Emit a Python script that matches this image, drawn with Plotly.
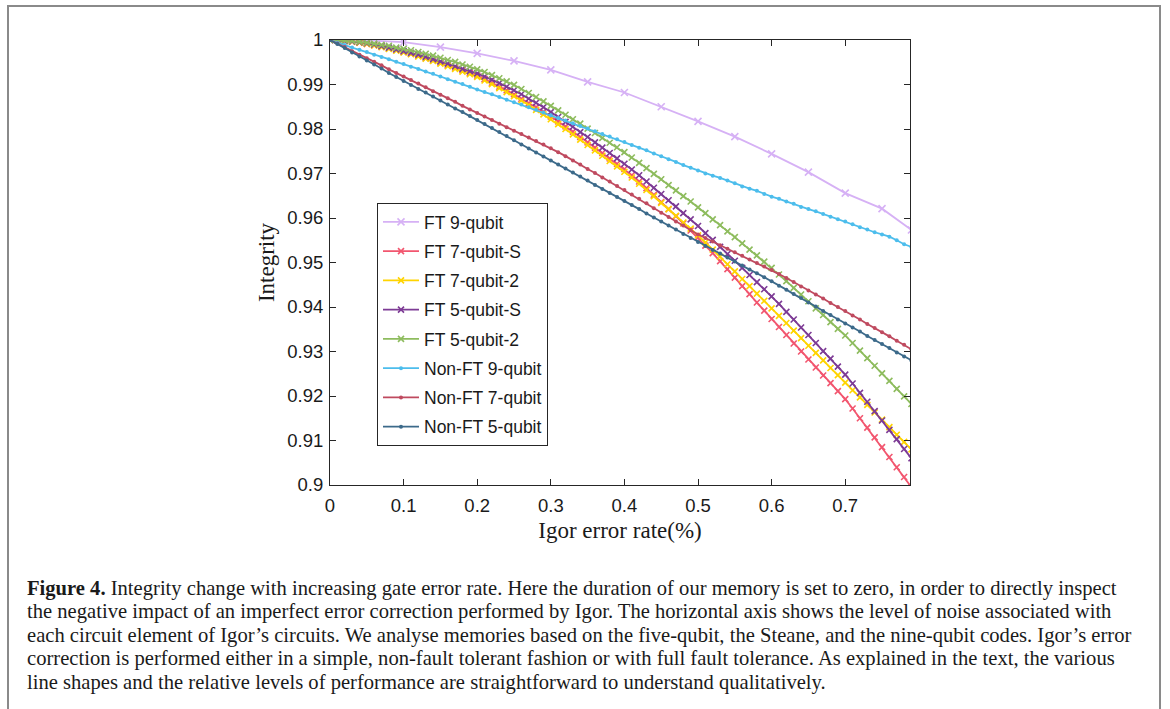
import plotly.graph_objects as go

# ---------------- data ----------------
x_dense = [round(i * 0.01, 2) for i in range(80)]          # 0 .. 0.79
x_ft9 = [0, 0.05, 0.1, 0.15, 0.2, 0.25, 0.3, 0.35, 0.4, 0.45, 0.5, 0.55, 0.6, 0.65, 0.7, 0.75, 0.79]

ft9 = [1.0, 0.9999, 0.9995, 0.9984, 0.9970, 0.9953, 0.9933, 0.9906, 0.9882, 0.9850,
       0.9817, 0.9783, 0.9744, 0.9703, 0.9656, 0.9621, 0.9573]

ft7s = [1.0000, 0.9999, 0.9998, 0.9996, 0.9994, 0.9991, 0.9988, 0.9985, 0.9981, 0.9977,
        0.9973, 0.9969, 0.9964, 0.9959, 0.9954, 0.9949, 0.9943, 0.9938, 0.9932, 0.9926,
        0.9920, 0.9912, 0.9904, 0.9895, 0.9887, 0.9878, 0.9868, 0.9858, 0.9849, 0.9839,
        0.9828, 0.9817, 0.9806, 0.9794, 0.9782, 0.9770, 0.9758, 0.9746, 0.9734, 0.9722,
        0.9710, 0.9696, 0.9682, 0.9667, 0.9652, 0.9636, 0.9620, 0.9604, 0.9588, 0.9572,
        0.9556, 0.9538, 0.9521, 0.9503, 0.9485, 0.9466, 0.9447, 0.9429, 0.9410, 0.9392,
        0.9373, 0.9355, 0.9337, 0.9318, 0.9300, 0.9282, 0.9264, 0.9246, 0.9229, 0.9211,
        0.9193, 0.9172, 0.9150, 0.9129, 0.9107, 0.9085, 0.9063, 0.9040, 0.9018, 0.8995]

ft72 = [1.0000, 0.9999, 0.9998, 0.9996, 0.9994, 0.9991, 0.9988, 0.9984, 0.9980, 0.9976,
        0.9972, 0.9968, 0.9963, 0.9958, 0.9953, 0.9947, 0.9941, 0.9935, 0.9929, 0.9923,
        0.9917, 0.9909, 0.9901, 0.9892, 0.9883, 0.9874, 0.9864, 0.9854, 0.9843, 0.9833,
        0.9822, 0.9811, 0.9800, 0.9788, 0.9776, 0.9764, 0.9752, 0.9740, 0.9728, 0.9716,
        0.9704, 0.9691, 0.9677, 0.9663, 0.9649, 0.9634, 0.9620, 0.9605, 0.9590, 0.9576,
        0.9561, 0.9545, 0.9529, 0.9513, 0.9496, 0.9480, 0.9463, 0.9447, 0.9430, 0.9414,
        0.9397, 0.9380, 0.9364, 0.9347, 0.9330, 0.9313, 0.9297, 0.9280, 0.9263, 0.9247,
        0.9230, 0.9213, 0.9197, 0.9180, 0.9163, 0.9147, 0.9130, 0.9113, 0.9097, 0.9080]

ft5s = [1.0000, 0.9999, 0.9998, 0.9997, 0.9995, 0.9993, 0.9990, 0.9986, 0.9983, 0.9979,
        0.9975, 0.9971, 0.9967, 0.9962, 0.9957, 0.9952, 0.9947, 0.9941, 0.9935, 0.9930,
        0.9925, 0.9918, 0.9911, 0.9903, 0.9895, 0.9887, 0.9878, 0.9868, 0.9859, 0.9849,
        0.9838, 0.9827, 0.9816, 0.9805, 0.9793, 0.9782, 0.9770, 0.9758, 0.9746, 0.9734,
        0.9722, 0.9709, 0.9696, 0.9682, 0.9668, 0.9654, 0.9640, 0.9626, 0.9611, 0.9597,
        0.9582, 0.9566, 0.9551, 0.9535, 0.9519, 0.9504, 0.9488, 0.9472, 0.9456, 0.9440,
        0.9424, 0.9407, 0.9389, 0.9372, 0.9354, 0.9337, 0.9319, 0.9301, 0.9284, 0.9266,
        0.9248, 0.9228, 0.9207, 0.9187, 0.9166, 0.9145, 0.9124, 0.9103, 0.9081, 0.9060]

ft52 = [1.0000, 0.9999, 0.9999, 0.9998, 0.9996, 0.9994, 0.9992, 0.9989, 0.9987, 0.9983,
        0.9980, 0.9977, 0.9973, 0.9969, 0.9965, 0.9960, 0.9955, 0.9951, 0.9945, 0.9940,
        0.9934, 0.9928, 0.9921, 0.9914, 0.9907, 0.9899, 0.9890, 0.9881, 0.9872, 0.9862,
        0.9852, 0.9842, 0.9832, 0.9822, 0.9812, 0.9801, 0.9791, 0.9780, 0.9769, 0.9759,
        0.9748, 0.9736, 0.9724, 0.9712, 0.9699, 0.9687, 0.9674, 0.9662, 0.9649, 0.9637,
        0.9624, 0.9611, 0.9597, 0.9584, 0.9570, 0.9557, 0.9543, 0.9529, 0.9516, 0.9502,
        0.9488, 0.9473, 0.9458, 0.9443, 0.9428, 0.9413, 0.9397, 0.9382, 0.9366, 0.9351,
        0.9336, 0.9319, 0.9302, 0.9285, 0.9268, 0.9251, 0.9234, 0.9216, 0.9199, 0.9182]

nft9 = [1.0000, 0.9994, 0.9989, 0.9983, 0.9978, 0.9973, 0.9967, 0.9962, 0.9957, 0.9951,
        0.9946, 0.9940, 0.9935, 0.9929, 0.9924, 0.9918, 0.9912, 0.9906, 0.9901, 0.9895,
        0.9889, 0.9883, 0.9878, 0.9872, 0.9866, 0.9860, 0.9855, 0.9849, 0.9843, 0.9837,
        0.9831, 0.9825, 0.9819, 0.9813, 0.9807, 0.9801, 0.9795, 0.9789, 0.9783, 0.9777,
        0.9771, 0.9764, 0.9758, 0.9752, 0.9745, 0.9739, 0.9732, 0.9726, 0.9719, 0.9713,
        0.9707, 0.9700, 0.9695, 0.9690, 0.9684, 0.9678, 0.9671, 0.9666, 0.9661, 0.9654,
        0.9648, 0.9643, 0.9637, 0.9632, 0.9625, 0.9620, 0.9615, 0.9609, 0.9603, 0.9597,
        0.9592, 0.9586, 0.9579, 0.9574, 0.9568, 0.9563, 0.9558, 0.9550, 0.9541, 0.9535]

nft7 = [1.0000, 0.9992, 0.9984, 0.9975, 0.9967, 0.9959, 0.9951, 0.9943, 0.9934, 0.9926,
        0.9918, 0.9910, 0.9902, 0.9894, 0.9885, 0.9877, 0.9869, 0.9861, 0.9852, 0.9844,
        0.9836, 0.9828, 0.9820, 0.9812, 0.9804, 0.9796, 0.9789, 0.9781, 0.9773, 0.9765,
        0.9757, 0.9748, 0.9739, 0.9729, 0.9720, 0.9710, 0.9701, 0.9691, 0.9682, 0.9672,
        0.9663, 0.9653, 0.9643, 0.9633, 0.9622, 0.9612, 0.9602, 0.9592, 0.9583, 0.9573,
        0.9563, 0.9555, 0.9547, 0.9539, 0.9531, 0.9523, 0.9515, 0.9507, 0.9499, 0.9491,
        0.9483, 0.9474, 0.9465, 0.9456, 0.9446, 0.9437, 0.9428, 0.9419, 0.9409, 0.9400,
        0.9391, 0.9381, 0.9372, 0.9362, 0.9353, 0.9343, 0.9334, 0.9324, 0.9315, 0.9305]

nft5 = [1.0000, 0.9991, 0.9982, 0.9972, 0.9963, 0.9954, 0.9945, 0.9936, 0.9926, 0.9917,
        0.9908, 0.9899, 0.9890, 0.9882, 0.9873, 0.9864, 0.9855, 0.9846, 0.9838, 0.9829,
        0.9820, 0.9811, 0.9802, 0.9793, 0.9784, 0.9775, 0.9765, 0.9756, 0.9747, 0.9738,
        0.9729, 0.9720, 0.9711, 0.9702, 0.9693, 0.9684, 0.9674, 0.9665, 0.9656, 0.9647,
        0.9638, 0.9629, 0.9620, 0.9610, 0.9601, 0.9592, 0.9583, 0.9574, 0.9564, 0.9555,
        0.9546, 0.9537, 0.9528, 0.9520, 0.9511, 0.9502, 0.9493, 0.9484, 0.9476, 0.9467,
        0.9458, 0.9448, 0.9439, 0.9429, 0.9420, 0.9410, 0.9401, 0.9391, 0.9382, 0.9372,
        0.9363, 0.9354, 0.9345, 0.9335, 0.9326, 0.9317, 0.9308, 0.9298, 0.9289, 0.9280]

names = ["FT 9-qubit", "FT 7-qubit-S", "FT 7-qubit-2", "FT 5-qubit-S", "FT 5-qubit-2",
         "Non-FT 9-qubit", "Non-FT 7-qubit", "Non-FT 5-qubit"]

x_ticks = [0, 0.1, 0.2, 0.3, 0.4, 0.5, 0.6, 0.7]
y_ticks = [0.9, 0.91, 0.92, 0.93, 0.94, 0.95, 0.96, 0.97, 0.98, 0.99, 1.0]
y_ticktext = ["0.9", "0.91", "0.92", "0.93", "0.94", "0.95", "0.96", "0.97", "0.98", "0.99", "1"]

caption_lines = [
    "<b>Figure 4.</b> Integrity change with increasing gate error rate. Here the duration of our memory is set to zero, in order to directly inspect",
    "the negative impact of an imperfect error correction performed by Igor. The horizontal axis shows the level of noise associated with",
    "each circuit element of Igor’s circuits. We analyse memories based on the five-qubit, the Steane, and the nine-qubit codes. Igor’s error",
    "correction is performed either in a simple, non-fault tolerant fashion or with full fault tolerance. As explained in the text, the various",
    "line shapes and the relative levels of performance are straightforward to understand qualitatively.",
]

# ---------------- styling ----------------
colors = ["#D6B1F5", "#F2566F", "#FFD400", "#7D3B95", "#8EBC5E", "#4CBDEC", "#BF4A5F", "#3C6A8A"]

series = [
    (x_ft9, ft9, "x-thin", 7),
    (x_dense, ft7s, "x-thin", 6),
    (x_dense, ft72, "x-thin", 6),
    (x_dense, ft5s, "x-thin", 6),
    (x_dense, ft52, "x-thin", 6),
    (x_dense, nft9, "circle", 4),
    (x_dense, nft7, "circle", 4),
    (x_dense, nft5, "circle", 4),
]

fig = go.Figure()
for i, (xs, ys, sym, sz) in enumerate(series):
    c = colors[i]
    if sym == "x-thin":
        marker = dict(symbol=sym, size=sz, color=c, line=dict(color=c, width=1.6))
    else:
        marker = dict(symbol=sym, size=sz, color=c, line=dict(width=0))
    fig.add_trace(go.Scatter(
        x=xs, y=ys, mode="lines+markers", name=names[i],
        legendgroup=f"g{i}",
        line=dict(color=c, width=1.8),
        marker=marker,
    ))

L, R, T, B = 330, 260, 40, 224
W, H = 1170, 709
pw, ph = W - L - R, H - T - B


def px_x(px):
    return (px - L) / pw


def px_y(py):
    return (H - B - py) / ph


axis_common = dict(
    showline=True, linecolor="#262626", linewidth=1, mirror="ticks",
    ticks="inside", ticklen=6, tickcolor="#262626", tickwidth=1,
    showgrid=False, zeroline=False,
    tickfont=dict(family="Liberation Sans, Arial, sans-serif", size=18.5, color="#1a1a1a"),
)

fig.update_xaxes(
    range=[0, 0.788], tickvals=x_ticks, ticktext=[("0" if v == 0 else f"{v:g}") for v in x_ticks],
    ticklabelstandoff=4,
    title=dict(text="Igor error rate(%)", font=dict(family="Liberation Serif, Times New Roman, serif", size=23, color="#1a1a1a"), standoff=6),
    **axis_common,
)
fig.update_yaxes(
    range=[0.9, 1.0], tickvals=y_ticks, ticktext=y_ticktext,
    ticklabelstandoff=2,
    title=dict(text="Integrity", font=dict(family="Liberation Serif, Times New Roman, serif", size=23, color="#1a1a1a"), standoff=6),
    **axis_common,
)

annotations = []
line_y = [588, 611.5, 635, 658.5, 682]
for txt, yy in zip(caption_lines, line_y):
    annotations.append(dict(
        text=txt, xref="paper", yref="paper", x=px_x(25), y=px_y(yy),
        xanchor="left", yanchor="middle", showarrow=False, align="left",
        font=dict(family="Liberation Serif, Times New Roman, serif", size=20.6, color="#1a1a1a"),
    ))

shapes = [dict(
    type="rect", xref="paper", yref="paper",
    x0=px_x(8), x1=px_x(1160), y0=px_y(740), y1=px_y(6),
    line=dict(color="#8a8a8a", width=2), fillcolor="rgba(0,0,0,0)", layer="below",
)]

fig.update_layout(
    width=W, height=H,
    margin=dict(l=L, r=R, t=T, b=B, pad=0),
    paper_bgcolor="white", plot_bgcolor="white",
    showlegend=True,
    legend=dict(
        x=px_x(377), y=px_y(203), xanchor="left", yanchor="top",
        bgcolor="white", bordercolor="#262626", borderwidth=1,
        font=dict(family="Liberation Sans, Arial, sans-serif", size=17.5, color="#1a1a1a"),
        tracegroupgap=3.5, itemwidth=36,
    ),
    annotations=annotations,
    shapes=shapes,
)

fig.write_html("out.html")
